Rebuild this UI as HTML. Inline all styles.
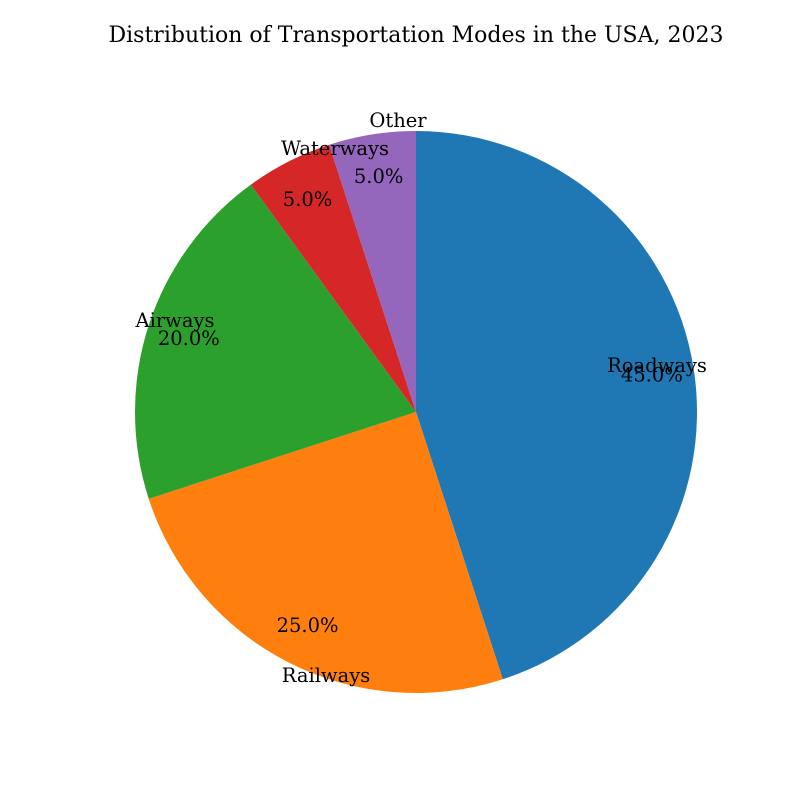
<!DOCTYPE html>
<html><head><meta charset="utf-8"><style>
body{margin:0;background:#fff}
svg text{font-family:"DejaVu Serif","Liberation Serif",serif;fill:#000}
</style></head><body>
<svg id="c" width="800" height="800">
<text x="416" y="42" text-anchor="middle" font-size="22">Distribution of Transportation Modes in the USA, 2023</text>
</svg>
<script>
const categories=["Roadways","Railways","Airways","Waterways","Other"];
const values=[45,25,20,5,5];
const colors=["#1f77b4","#ff7f0e","#2ca02c","#d62728","#9467bd"];
const labelXY=[[657,365],[326,675],[175,320],[335,148],[398,120]];
const svg=document.getElementById('c');
const NS='http://www.w3.org/2000/svg';
const cx=416,cy=412,R=281;
const total=values.reduce((a,b)=>a+b,0);
let ang=90;
function pt(a,r){const t=a*Math.PI/180;return [cx+r*Math.cos(t),cy-r*Math.sin(t)];}
values.forEach((v,i)=>{
  const sweep=v/total*360;const a0=ang,a1=ang-sweep;
  const p0=pt(a0,R),p1=pt(a1,R);
  const p=document.createElementNS(NS,'path');
  p.setAttribute('d',`M${cx},${cy}L${p0[0]},${p0[1]}A${R},${R} 0 ${sweep>180?1:0} 1 ${p1[0]},${p1[1]}Z`);
  p.setAttribute('fill',colors[i]);
  
  
  svg.appendChild(p);
  const m=(a0+a1)/2;const pp=pt(m,R*0.85);
  const t=document.createElementNS(NS,'text');
  t.setAttribute('x',pp[0]);t.setAttribute('y',pp[1]+7);t.setAttribute('text-anchor','middle');t.setAttribute('font-size','19.5');
  t.textContent=v.toFixed(1)+'%';
  
  
  svg.appendChild(t);
  ang=a1;
});
categories.forEach((c,i)=>{
  const t=document.createElementNS(NS,'text');
  t.setAttribute('x',labelXY[i][0]);t.setAttribute('y',labelXY[i][1]+7);t.setAttribute('text-anchor','middle');t.setAttribute('font-size','19.5');
  t.textContent=c;
  
  
  svg.appendChild(t);
});
</script>
</body></html>
